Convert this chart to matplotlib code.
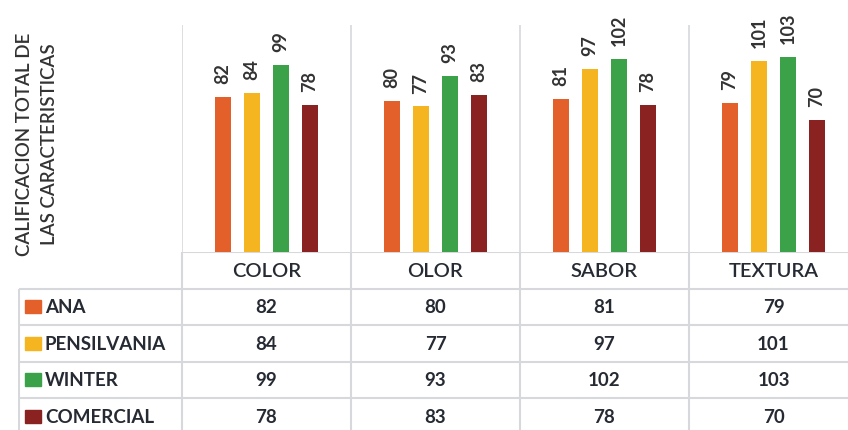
import matplotlib
matplotlib.use("Agg")
import matplotlib.pyplot as plt
from matplotlib.patches import Rectangle
import numpy as np

categories = ["COLOR", "OLOR", "SABOR", "TEXTURA"]
series_names = ["ANA", "PENSILVANIA", "WINTER", "COMERCIAL"]
ana = [82, 80, 81, 79]
pensilvania = [84, 77, 97, 101]
winter = [99, 93, 102, 103]
comercial = [78, 83, 78, 70]
series_values = [ana, pensilvania, winter, comercial]
colors = ["#E4602A", "#F4B521", "#3CA24A", "#8B2222"]
ylabel = "CALIFICACION TOTAL DE\nLAS CARACTERISTICAS"

FONT = "Lato"
TXT = "#262a33"
GRID = "#d6d8dc"

W, H = 848, 431
fig = plt.figure(figsize=(W / 100, H / 100), dpi=100)

# geometry in pixels
x_left_plot = 182
cat_w = 169
base_y = 253
px_per_unit = 1.89
row_h = 36.5
tbl_left = 18

# bar axes
ax = fig.add_axes([x_left_plot / W, (H - base_y) / H, (W - x_left_plot) / W, base_y / H])
ax.set_xlim(-0.5, -0.5 + (W - x_left_plot) / cat_w)
ax.set_ylim(0, base_y / px_per_unit)
ax.axis("off")

x = np.arange(len(categories))
bw = 0.09
offsets = [-0.257, -0.086, 0.086, 0.257]
for vals, off, c in zip(series_values, offsets, colors):
    bars = ax.bar(x + off, vals, width=bw, color=c, zorder=3)
    for b, v in zip(bars, vals):
        ax.annotate(str(v), (b.get_x() + b.get_width() / 2, v), xytext=(0, 10),
                    textcoords="offset points", rotation=90, ha="center", va="bottom",
                    fontsize=13, fontfamily=FONT, fontweight="bold", color="#333333")
ax.vlines(np.arange(len(categories)) - 0.5, 0, 120, color=GRID, lw=1.2, zorder=1)

# y label
fig.text(37 / W, 1 - 144 / H, ylabel, rotation=90, ha="center", va="center",
         fontsize=13.5, fontfamily=FONT, fontweight="semibold", color="#333333",
         linespacing=1.6)

# table axes
tax = fig.add_axes([tbl_left / W, 0, (W - tbl_left) / W, (H - base_y) / H])
xl = -0.5 - (x_left_plot - tbl_left) / cat_w
xr = -0.5 + (W - x_left_plot) / cat_w
tax.set_xlim(xl, xr)
ymax = (H - base_y) / row_h
tax.set_ylim(ymax, 0)
tax.axis("off")

# grid lines
tax.hlines(0, -0.5, xr, color=GRID, lw=1.5)
tax.hlines([1, 2, 3, 4], xl + 0.004, xr, color=GRID, lw=1.5)
tax.vlines(np.arange(len(categories)) - 0.5, 0, ymax, color=GRID, lw=1.5)
tax.vlines(xl + 0.004, 1, ymax, color=GRID, lw=1.5)

for i, cat in enumerate(categories):
    tax.text(i, 0.5, cat, ha="center", va="center", fontsize=14.5, fontfamily=FONT,
             fontweight="semibold", color=TXT)

for r, (name, vals, c) in enumerate(zip(series_names, series_values, colors)):
    yc = r + 1.5
    sq_w = 16 / cat_w
    sq_h = 13 / row_h
    tax.add_patch(Rectangle((xl + 7 / cat_w, yc - sq_h / 2), sq_w, sq_h, color=c))
    tax.text(xl + 27 / cat_w, yc, name, ha="left", va="center", fontsize=13.5,
             fontfamily=FONT, fontweight="bold", color=TXT)
    for i, v in enumerate(vals):
        tax.text(i, yc, str(v), ha="center", va="center", fontsize=13.5,
                 fontfamily=FONT, fontweight="bold", color=TXT)

fig.savefig("out.png", dpi=100, facecolor="white")
